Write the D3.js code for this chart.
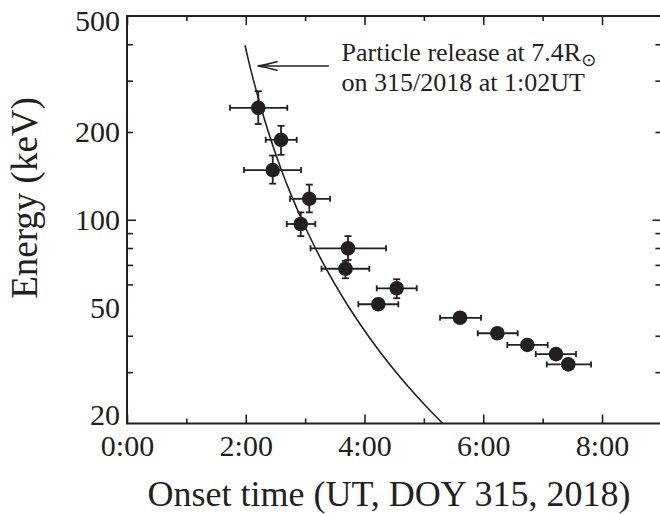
<!DOCTYPE html>
<html>
<head>
<meta charset="utf-8">
<script src="https://cdn.jsdelivr.net/npm/d3@7"></script>
<style>
  html, body { margin: 0; padding: 0; background: #fff; }
  svg { display: block; }
  text { font-family: "Liberation Serif", "DejaVu Serif", serif; fill: #231f20; }
</style>
</head>
<body>
<svg id="chart" width="660" height="514"></svg>
<script>
// ---- data ----
const onsetTime = [2.211, 2.594, 2.454, 3.070, 2.926, 3.722, 3.680, 4.542, 4.232, 5.608, 6.237, 6.742, 7.225, 7.432];
const timeLo    = [1.735, 2.336, 1.971, 2.745, 2.690, 3.091, 3.276, 4.206, 3.896, 5.272, 5.907, 6.405, 6.884, 7.069];
const timeHi    = [2.700, 2.858, 2.931, 3.419, 3.171, 4.362, 4.081, 4.879, 4.569, 5.962, 6.580, 7.085, 7.562, 7.815];
const energy    = [242, 188, 148, 118, 96.7, 79.8, 67.9, 58.2, 51.3, 46.1, 40.8, 37.2, 34.6, 31.9];
const energyLo  = [213, 167, 133, 106, 87.9, 72.8, 63.0, 53.8, null, null, null, null, null, null];
const energyHi  = [276, 210, 166, 132, 106, 87.9, 72.3, 62.5, null, null, null, null, null, null];

// velocity-dispersion curve (release at 7.4 Rsun, 1:02 UT)
const curveEnergy = [397, 350, 300, 250, 200, 150, 120, 100, 80, 70, 60, 50, 40, 35, 30, 25, 22, 20];
const curveTime   = [1.987, 2.049, 2.132, 2.238, 2.381, 2.591, 2.777, 2.944, 3.171, 3.319, 3.503, 3.740, 4.061, 4.271, 4.531, 4.866, 5.120, 5.320];

const xMajorTicks = [0, 2, 4, 6, 8];
const xMinorTicks = [1, 3, 5, 7];
const xTickLabels = ["0:00", "2:00", "4:00", "6:00", "8:00"];
const yLabelTicks = [20, 50, 100, 200, 500];
const yMinorTicks = [30, 40, 60, 70, 80, 90, 200, 300, 400];
const yMajorTicks = [100];

// ---- layout ----
const svg = d3.select("#chart");
const pLeft = 127, pRight = 661.4, pTop = 16, pBottom = 423.5;
const x = d3.scaleLinear().domain([0, 9]).range([pLeft, pRight]);
const y = d3.scaleLog().domain([20, 500]).range([pBottom, pTop]);
const ink = "#231f20";

svg.append("defs").append("clipPath").attr("id", "plotclip")
  .append("rect").attr("x", pLeft).attr("y", pTop).attr("width", pRight - pLeft).attr("height", pBottom - pTop);

// ---- axes ----
function styleAxis(g) {
  g.select(".domain").remove();
  g.selectAll(".tick line").attr("stroke", ink).attr("stroke-width", 1.6);
}
// bottom
svg.append("g").attr("transform", `translate(0,${pBottom})`)
  .call(d3.axisBottom(x).tickValues(xMajorTicks).tickSize(-9).tickFormat((d, i) => xTickLabels[i]))
  .call(styleAxis)
  .call(g => g.selectAll("text").attr("font-size", 30).attr("y", 32.5).attr("dy", 0).attr("fill", ink)
    .style("font-family", "'Liberation Serif', serif"));
svg.append("g").attr("transform", `translate(0,${pBottom})`)
  .call(d3.axisBottom(x).tickValues(xMinorTicks).tickSize(-5).tickFormat(""))
  .call(styleAxis);
// top
svg.append("g").attr("transform", `translate(0,${pTop})`)
  .call(d3.axisTop(x).tickValues(xMajorTicks).tickSize(-9).tickFormat(""))
  .call(styleAxis);
svg.append("g").attr("transform", `translate(0,${pTop})`)
  .call(d3.axisTop(x).tickValues(xMinorTicks).tickSize(-5).tickFormat(""))
  .call(styleAxis);
// left
svg.append("g").attr("transform", `translate(${pLeft},0)`)
  .call(d3.axisLeft(y).tickValues(yLabelTicks).tickSize(0).tickPadding(7).tickFormat(d3.format("d")))
  .call(styleAxis)
  .call(g => g.selectAll("text").attr("font-size", 30).attr("fill", ink)
    .style("font-family", "'Liberation Serif', serif")
    .attr("dy", d => d === 500 ? "0.47em" : d === 20 ? "0.03em" : "0.32em"));
svg.append("g").attr("transform", `translate(${pLeft},0)`)
  .call(d3.axisLeft(y).tickValues(yMinorTicks).tickSize(-6).tickFormat(""))
  .call(styleAxis);
svg.append("g").attr("transform", `translate(${pLeft},0)`)
  .call(d3.axisLeft(y).tickValues(yMajorTicks).tickSize(-9).tickFormat(""))
  .call(styleAxis);
// right
svg.append("g").attr("transform", `translate(${pRight},0)`)
  .call(d3.axisRight(y).tickValues(yMinorTicks).tickSize(-6).tickFormat(""))
  .call(styleAxis);
svg.append("g").attr("transform", `translate(${pRight},0)`)
  .call(d3.axisRight(y).tickValues(yMajorTicks).tickSize(-9).tickFormat(""))
  .call(styleAxis);

// frame
svg.append("rect").attr("x", pLeft).attr("y", pTop).attr("width", pRight - pLeft).attr("height", pBottom - pTop)
  .attr("fill", "none").attr("stroke", ink).attr("stroke-width", 2);

// ---- curve ----
const curvePts = curveTime.map((t, i) => [t, curveEnergy[i]]);
svg.append("path").datum(curvePts)
  .attr("clip-path", "url(#plotclip)")
  .attr("fill", "none").attr("stroke", ink).attr("stroke-width", 1.6)
  .attr("d", d3.line().x(d => x(d[0])).y(d => y(d[1])).curve(d3.curveMonotoneX));

// ---- error bars and points ----
const pts = onsetTime.map((t, i) => ({t, lo: timeLo[i], hi: timeHi[i], e: energy[i], elo: energyLo[i], ehi: energyHi[i]}));
const eb = svg.append("g").attr("stroke", ink).attr("stroke-width", 1.8).attr("fill", "none");
pts.forEach(p => {
  const cy = y(p.e);
  eb.append("line").attr("x1", x(p.lo)).attr("x2", x(p.hi)).attr("y1", cy).attr("y2", cy);
  eb.append("line").attr("x1", x(p.lo)).attr("x2", x(p.lo)).attr("y1", cy - 3).attr("y2", cy + 3);
  eb.append("line").attr("x1", x(p.hi)).attr("x2", x(p.hi)).attr("y1", cy - 3).attr("y2", cy + 3);
  if (p.elo != null) {
    const cx = x(p.t);
    eb.append("line").attr("x1", cx).attr("x2", cx).attr("y1", y(p.ehi)).attr("y2", y(p.elo));
    eb.append("line").attr("x1", cx - 3.5).attr("x2", cx + 3.5).attr("y1", y(p.ehi)).attr("y2", y(p.ehi));
    eb.append("line").attr("x1", cx - 3.5).attr("x2", cx + 3.5).attr("y1", y(p.elo)).attr("y2", y(p.elo));
  }
});
svg.append("g").selectAll("circle").data(pts).join("circle")
  .attr("cx", d => x(d.t)).attr("cy", d => y(d.e)).attr("r", 7.3)
  .attr("fill", ink);

// ---- annotation ----
const tipT = 2.2, tailT = 3.4, arrowE = 337;
const ax1 = x(tipT), ax2 = x(tailT), ay = y(arrowE);
const ann = svg.append("g").attr("stroke", ink).attr("stroke-width", 1.5).attr("fill", "none");
ann.append("line").attr("x1", ax1 + 1).attr("x2", ax2).attr("y1", ay).attr("y2", ay);
ann.append("path").attr("d", `M${ax1 + 20},${ay - 4.5} Q${ax1 + 8},${ay - 1} ${ax1},${ay} Q${ax1 + 8},${ay + 1} ${ax1 + 20},${ay + 4.5}`);

const t1 = svg.append("text").attr("x", 341.5).attr("y", 61).attr("font-size", 26);
t1.append("tspan").text("Particle release at 7.4R");
t1.append("tspan").attr("dy", 5).attr("font-size", 18).style("font-family", "'DejaVu Sans', sans-serif").text("⊙");
svg.append("text").attr("x", 341.5).attr("y", 90.5).attr("font-size", 26).text("on 315/2018 at 1:02UT");

// ---- axis titles ----
svg.append("text").attr("x", 389).attr("y", 506).attr("text-anchor", "middle").attr("font-size", 36)
  .text("Onset time (UT, DOY 315, 2018)");
svg.append("text").attr("transform", "translate(37,198) rotate(-90)").attr("text-anchor", "middle").attr("font-size", 37)
  .text("Energy (keV)");
</script>
</body>
</html>
